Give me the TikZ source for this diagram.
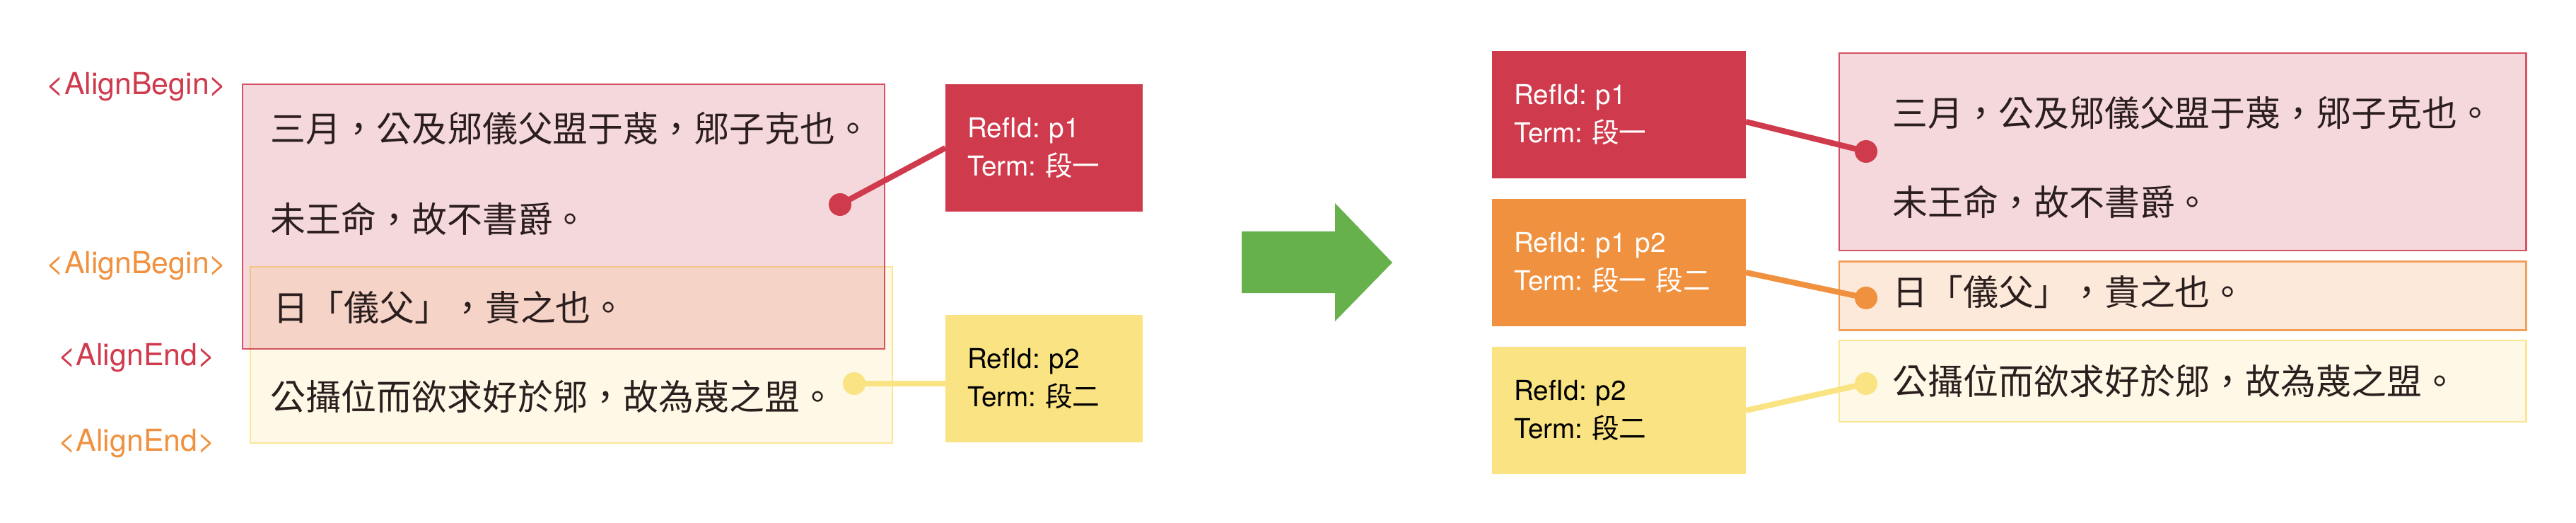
\documentclass[tikz,border=0pt]{standalone}
\usepackage{fontspec}
\setmainfont{TeX Gyre Heros}
\newfontfamily\cjk{Noto Sans CJK TC}
\usetikzlibrary{positioning}
\frenchspacing
\definecolor{tagred}{RGB}{207,58,77}
\definecolor{tagorange}{RGB}{240,145,63}
\definecolor{tagyellow}{RGB}{250,227,130}
\definecolor{flowgreen}{RGB}{103,177,76}
\definecolor{inkdark}{RGB}{43,30,30}
\newcommand{\zh}[1]{{\cjk #1}}
\tikzset{
  pbox/.style={draw=#1, draw opacity=0.85, line width=0.7pt, fill=#1, fill opacity=0.2,
    inner sep=0pt, anchor=north west},
  ptxt/.style={font=\cjk\fontsize{14.2}{17}\selectfont, text=inkdark, anchor=west, inner sep=0pt},
  refbox/.style={fill=#1, anchor=north west, align=left, inner xsep=0.31cm, inner ysep=0pt,
    outer sep=0pt, minimum height=1.8cm, font=\fontsize{11}{15.6}\selectfont, text=white},
  atag/.style={text=#1, anchor=base, inner sep=0pt, font=\fontsize{12.2}{14}\selectfont},
  link/.style={draw=#1, line width=2.3pt},
  dot/.style={circle, fill=#1, inner sep=0pt, minimum size=0.32cm},
}

\begin{document}
\begin{tikzpicture}
\useasboundingbox (0,0) rectangle (36.43,-7.38);
% before: overlapping alignment spans
\begin{scope}
  \foreach \i/\y/\c/\t in {1/1.33/tagred/{<AlignBegin>}, 2/3.86/tagorange/{<AlignBegin>},
                           3/5.16/tagred/{<AlignEnd>}, 4/6.37/tagorange/{<AlignEnd>}}{
    \node[atag=\c] (align\i) at (1.935,-\y) {\t};}
  \node[pbox=tagyellow, minimum width=9.08cm, minimum height=2.49cm] (lspan2) at (3.53,-3.76) {};
  \node[pbox=tagred, minimum width=9.08cm, minimum height=3.74cm] (lspan1) at (3.42,-1.18) {};
  \node[ptxt] (lline1) at (3.82,-1.82) {三月，公及郳儀父盟于蔑，郳子克也。};
  \node[ptxt] (lline2) at (3.82,-3.09) {未王命，故不書爵。};
  \node[ptxt] (lline3) at (3.86,-4.35) {日「儀父」，貴之也。};
  \node[ptxt] (lline4) at (3.82,-5.60) {公攝位而欲求好於郳，故為蔑之盟。};
  \node[refbox=tagred, text width=2.17cm] (lref1) at (13.37,-1.19) {RefId: p1\\Term: \zh{段一}};
  \node[refbox=tagyellow, text width=2.17cm, text=black] (lref2) at (13.37,-4.45) {RefId: p2\\Term: \zh{段二}};
  \node[dot=tagred] (ldot1) at (11.88,-2.89) {};
  \node[dot=tagyellow] (ldot2) at (12.08,-5.42) {};
  \draw[link=tagred] (ldot1.center) -- (lref1.west);
  \draw[link=tagyellow] (ldot2.center) -- (lref2.west |- ldot2);
\end{scope}
% flow arrow
\fill[flowgreen] (17.56,-3.27) -- (18.88,-3.27) -- (18.88,-2.87) -- (19.69,-3.71)
  -- (18.88,-4.54) -- (18.88,-4.14) -- (17.56,-4.14) -- cycle;
% after: split paragraphs
\begin{scope}
  \node[refbox=tagred, text width=2.97cm] (rref1) at (21.10,-0.72) {RefId: p1\\Term: \zh{段一}};
  \node[refbox=tagorange, text width=2.97cm, below=0.29cm of rref1] (rref12) {RefId: p1 p2\\Term: \zh{段一 段二}};
  \node[refbox=tagyellow, text width=2.97cm, text=black, below=0.29cm of rref12] (rref2) {RefId: p2\\Term: \zh{段二}};
  \node[pbox=tagred, minimum width=9.71cm, minimum height=2.79cm] (rpara1) at (26.00,-0.74) {};
  \node[pbox=tagorange, minimum width=9.71cm, minimum height=0.97cm, below=0.13cm of rpara1] (rpara2) {};
  \node[pbox=tagyellow, minimum width=9.71cm, minimum height=1.15cm, below=0.12cm of rpara2] (rpara3) {};
  \node[ptxt] (rline1) at (26.76,-1.60) {三月，公及郳儀父盟于蔑，郳子克也。};
  \node[ptxt] (rline2) at (26.76,-2.85) {未王命，故不書爵。};
  \node[ptxt] (rline3) at (26.76,-4.13) {日「儀父」，貴之也。};
  \node[ptxt] (rline4) at (26.76,-5.38) {公攝位而欲求好於郳，故為蔑之盟。};
  \node[dot=tagred] (rdot1) at (26.39,-2.14) {};
  \node[dot=tagorange] (rdot2) at (26.39,-4.21) {};
  \node[dot=tagyellow] (rdot3) at (26.39,-5.42) {};
  \draw[link=tagred] ([yshift=-1mm]rref1.east) -- (rdot1.center);
  \draw[link=tagorange] ([yshift=-1.4mm]rref12.east) -- (rdot2.center);
  \draw[link=tagyellow] (rref2.east) -- (rdot3.center);
\end{scope}
\end{tikzpicture}
\end{document}
